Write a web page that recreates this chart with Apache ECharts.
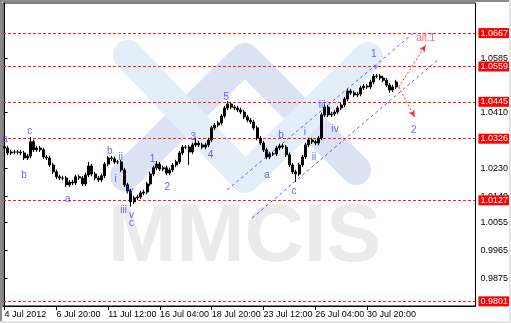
<!DOCTYPE html>
<html><head><meta charset="utf-8">
<script src="https://cdn.jsdelivr.net/npm/echarts@6/dist/echarts.min.js"></script>
<style>html,body{margin:0;padding:0;background:#fff}#c{width:511px;height:323px}</style>
</head><body><div id="c"></div>
<script>
// ---- data ----
const xTickLabels = ['4 Jul 2012','6 Jul 20:00','11 Jul 12:00','16 Jul 04:00','18 Jul 20:00','23 Jul 12:00','26 Jul 04:00','30 Jul 20:00'];
const barsPerTick = 16;
const slotCount = 146;
const opens = [1.0300,1.0296,1.0280,1.0283,1.0283,1.0283,1.0280,1.0264,1.0270,1.0316,
1.0290,1.0296,1.0290,1.0267,1.0264,1.0241,1.0219,1.0203,1.0199,1.0199,
1.0177,1.0186,1.0183,1.0203,1.0199,1.0180,1.0209,1.0238,1.0212,1.0199,
1.0193,1.0206,1.0244,1.0264,1.0261,1.0251,1.0251,1.0225,1.0177,1.0157,
1.0122,1.0135,1.0138,1.0151,1.0154,1.0180,1.0212,1.0232,1.0244,1.0228,
1.0232,1.0215,1.0225,1.0241,1.0251,1.0280,1.0299,1.0299,1.0283,1.0306,
1.0312,1.0306,1.0299,1.0306,1.0322,1.0361,1.0370,1.0377,1.0399,1.0425,
1.0438,1.0428,1.0425,1.0419,1.0412,1.0396,1.0386,1.0380,1.0361,1.0328,
1.0312,1.0290,1.0267,1.0277,1.0277,1.0296,1.0303,1.0299,1.0274,1.0241,
1.0219,1.0212,1.0241,1.0267,1.0306,1.0322,1.0316,1.0312,1.0328,1.0403,
1.0428,1.0403,1.0406,1.0412,1.0425,1.0435,1.0454,1.0480,1.0474,1.0467,
1.0470,1.0490,1.0496,1.0493,1.0509,1.0528,1.0528,1.0522,1.0515,1.0499,
1.0483,1.0493];
const closes = [1.0296,1.0280,1.0283,1.0283,1.0283,1.0280,1.0264,1.0270,1.0316,1.0290,
1.0296,1.0290,1.0267,1.0264,1.0241,1.0219,1.0203,1.0199,1.0199,1.0177,
1.0186,1.0183,1.0203,1.0199,1.0180,1.0209,1.0238,1.0212,1.0199,1.0193,
1.0206,1.0244,1.0264,1.0261,1.0251,1.0251,1.0225,1.0177,1.0157,1.0122,
1.0135,1.0138,1.0151,1.0154,1.0180,1.0212,1.0232,1.0244,1.0228,1.0232,
1.0215,1.0225,1.0241,1.0251,1.0280,1.0299,1.0299,1.0283,1.0306,1.0312,
1.0306,1.0299,1.0306,1.0322,1.0361,1.0370,1.0377,1.0399,1.0425,1.0438,
1.0428,1.0425,1.0419,1.0412,1.0396,1.0386,1.0380,1.0361,1.0328,1.0312,
1.0290,1.0267,1.0277,1.0277,1.0296,1.0303,1.0299,1.0274,1.0241,1.0219,
1.0212,1.0241,1.0267,1.0306,1.0322,1.0316,1.0312,1.0328,1.0403,1.0428,
1.0403,1.0406,1.0412,1.0425,1.0435,1.0454,1.0480,1.0474,1.0467,1.0470,
1.0490,1.0496,1.0493,1.0509,1.0528,1.0528,1.0522,1.0515,1.0499,1.0483,
1.0493,1.0509];
const highs = [1.0309,1.0303,1.0290,1.0290,1.0290,1.0290,1.0287,1.0277,1.0332,1.0323,
1.0303,1.0303,1.0297,1.0274,1.0271,1.0248,1.0226,1.0210,1.0206,1.0206,
1.0193,1.0193,1.0210,1.0210,1.0206,1.0216,1.0251,1.0245,1.0219,1.0206,
1.0213,1.0251,1.0271,1.0271,1.0268,1.0258,1.0258,1.0232,1.0184,1.0164,
1.0142,1.0145,1.0158,1.0161,1.0187,1.0219,1.0239,1.0254,1.0251,1.0239,
1.0239,1.0232,1.0248,1.0258,1.0287,1.0306,1.0306,1.0306,1.0313,1.0328,
1.0319,1.0313,1.0313,1.0329,1.0368,1.0377,1.0384,1.0406,1.0432,1.0448,
1.0445,1.0435,1.0432,1.0426,1.0419,1.0403,1.0393,1.0387,1.0368,1.0335,
1.0319,1.0297,1.0284,1.0284,1.0303,1.0310,1.0310,1.0306,1.0281,1.0248,
1.0226,1.0248,1.0274,1.0313,1.0329,1.0329,1.0323,1.0335,1.0410,1.0438,
1.0435,1.0413,1.0419,1.0432,1.0442,1.0461,1.0487,1.0487,1.0481,1.0477,
1.0497,1.0503,1.0503,1.0516,1.0535,1.0535,1.0535,1.0529,1.0522,1.0506,
1.0500,1.0516];
const lows = [1.0285,1.0273,1.0273,1.0276,1.0276,1.0273,1.0257,1.0257,1.0263,1.0283,
1.0283,1.0283,1.0260,1.0257,1.0234,1.0212,1.0196,1.0192,1.0192,1.0170,
1.0170,1.0176,1.0176,1.0192,1.0173,1.0173,1.0202,1.0205,1.0192,1.0186,
1.0186,1.0199,1.0237,1.0254,1.0244,1.0244,1.0218,1.0170,1.0150,1.0107,
1.0115,1.0128,1.0131,1.0144,1.0147,1.0173,1.0205,1.0225,1.0221,1.0221,
1.0208,1.0208,1.0218,1.0234,1.0244,1.0273,1.0292,1.0241,1.0276,1.0299,
1.0299,1.0292,1.0292,1.0299,1.0315,1.0354,1.0363,1.0370,1.0392,1.0418,
1.0421,1.0418,1.0412,1.0405,1.0389,1.0379,1.0373,1.0354,1.0321,1.0305,
1.0283,1.0260,1.0260,1.0270,1.0270,1.0289,1.0292,1.0267,1.0234,1.0212,
1.0186,1.0205,1.0234,1.0260,1.0299,1.0309,1.0305,1.0305,1.0321,1.0396,
1.0396,1.0396,1.0399,1.0405,1.0418,1.0428,1.0447,1.0467,1.0460,1.0460,
1.0463,1.0483,1.0486,1.0486,1.0502,1.0521,1.0515,1.0508,1.0492,1.0474,
1.0476,1.0486];
const levelValues = [1.0667,1.0559,1.0445,1.0326,1.0127,0.9801];
const yTickValues = [0.9875,0.9965,1.0055,1.0140,1.0230,1.0410,1.0585];
const waveText = ['a','c','b','a','b','ii','i','iii','iv','v','c','1','2','3','4','5','a','b','c','i','ii','iii','iv','1','v','2','alt.1'];
const waveX = [0.1,7.8,6.0,19.5,32.5,35.9,34.3,36.8,38.6,39.2,39.2,45.7,50.3,58.3,63.6,68.5,81.1,85.4,89.4,92.8,95.6,98.1,102.1,114.1,114.7,126.4,130.1];
const waveY = [1.0325,1.0351,1.0209,1.0132,1.0286,1.0267,1.0196,1.0096,1.0157,1.0080,1.0054,1.0261,1.0170,1.0332,1.0274,1.0461,1.0209,1.0338,1.0157,1.0348,1.0267,1.0435,1.0357,1.0599,1.0558,1.0354,1.0651];
const channelUpper = [[68.8,1.0161],[126.4,1.0667]];
const channelLower = [[76.5,1.0070],[133.8,1.0580]];
const arrowUp = [[121.8,1.0493],[130.1,1.0628]];
const arrowDown = [[121.8,1.0493],[126.7,1.0396]];
const yMin = 0.9786, yMax = 1.0764;

// ---- chart ----
const categories = Array.from({length: slotCount}, (_, i) => String(i));
const candles = closes.map((c, i) => [opens[i], c, lows[i], highs[i]]);
const tickShown = (i) => i % barsPerTick === 0 && (i / barsPerTick) < xTickLabels.length;
const FONT = '"Liberation Sans", Arial, sans-serif';
const BLUE = '#3d3dff', RED = '#ff2020', CH = '#5a5aff';

const chart = echarts.init(document.getElementById('c'), null, {renderer: 'canvas'});
chart.setOption({
  animation: false,
  backgroundColor: '#fff',
  textStyle: {fontFamily: FONT},
  grid: {left: 3, top: 3, right: 34, bottom: 17, show: true, borderColor: '#000', borderWidth: 1, backgroundColor: 'transparent'},
  xAxis: [{
    type: 'category', data: categories, boundaryGap: true,
    axisLine: {lineStyle: {color: '#000'}},
    axisTick: {show: true, alignWithLabel: true, interval: (i) => tickShown(i), length: 4, lineStyle: {color: '#000'}},
    axisLabel: {interval: (i) => tickShown(i), formatter: (v, i) => xTickLabels[i / barsPerTick] || '', color: '#000', fontSize: 9, align: 'left', margin: 4},
    splitLine: {show: false}
  }, {
    type: 'value', min: -0.5, max: slotCount - 0.5, show: false
  }],
  yAxis: {
    type: 'value', position: 'right', min: yMin, max: yMax, scale: true,
    axisLine: {show: true, lineStyle: {color: '#000'}},
    axisTick: {show: true, customValues: yTickValues, length: 3, lineStyle: {color: '#000'}},
    axisLabel: {customValues: yTickValues, formatter: (v) => v.toFixed(4), color: '#000', fontSize: 9, margin: 5,
      showMaxLabel: true, showMinLabel: true, hideOverlap: false},
    splitLine: {show: false}
  },
  graphic: [
    {type: 'rect', z: 100, shape: {x: 0, y: 0, width: 511, height: 2}, style: {fill: '#8a8a8a'}},
    {type: 'rect', z: 100, shape: {x: 0, y: 0, width: 2, height: 323}, style: {fill: '#8a8a8a'}},
    {type: 'rect', z: 100, shape: {x: 0, y: 321, width: 511, height: 2}, style: {fill: '#e4e4e4'}},
    {type: 'rect', z: 100, shape: {x: 509, y: 0, width: 2, height: 323}, style: {fill: '#e4e4e4'}},
    {type: 'polyline', z: 0, silent: true, shape: {points: [[125, 176], [245, 58], [356, 170]]},
      style: {stroke: '#dbe3f3', fill: null, lineWidth: 30, lineCap: 'round', lineJoin: 'round'}},
    {type: 'polyline', z: 0, silent: true, shape: {points: [[128, 55], [245, 178], [368, 57]]},
      style: {stroke: '#e3eef9', fill: null, lineWidth: 30, lineCap: 'round', lineJoin: 'round'}},
    {type: 'text', z: 0, silent: true, x: 108, y: 238,
      style: {text: 'MMCIS', font: 'bold 82px "Liberation Sans", Arial, sans-serif', fill: '#ebebeb', verticalAlign: 'middle', align: 'left'}}
  ],
  series: [
    {
      type: 'candlestick', xAxisIndex: 0, z: 5, barWidth: 2.5,
      data: candles,
      itemStyle: {color: '#000', color0: '#000', borderColor: '#000', borderColor0: '#000', borderWidth: 1},
      markLine: {
        silent: true, symbol: ['none', 'none'], precision: 4,
        data: levelValues.map(v => ({
          yAxis: v,
          lineStyle: {color: RED, type: [3, 2], width: 1},
          label: {show: true, position: 'end', distance: 3, formatter: () => v.toFixed(4), color: '#fff', backgroundColor: '#ff0000', fontSize: 9, padding: [1, 2, 0, 2]}
        }))
      }
    },
    {
      type: 'line', xAxisIndex: 1, z: 4, symbol: 'none', data: channelUpper,
      lineStyle: {color: CH, type: [3, 3], width: 1}
    },
    {
      type: 'line', xAxisIndex: 1, z: 4, symbol: 'none', data: channelLower,
      lineStyle: {color: CH, type: [3, 3], width: 1},
      markLine: {
        silent: true, symbol: ['none', 'arrow'], symbolSize: [5, 7],
        label: {show: false},
        lineStyle: {color: '#ff3030', type: [2, 2], width: 1},
        data: [
          [{coord: arrowUp[0]}, {coord: arrowUp[1]}],
          [{coord: arrowDown[0]}, {coord: arrowDown[1]}]
        ]
      }
    },
    {
      type: 'scatter', xAxisIndex: 1, z: 6, symbolSize: 0.1, silent: true,
      itemStyle: {color: 'rgba(0,0,0,0)'},
      data: waveText.map((t, i) => ({
        name: t, value: [waveX[i], waveY[i]],
        label: {color: t === 'alt.1' ? '#ff4040' : BLUE, fontSize: t === 'v' && i > 20 ? 8 : 10}
      })),
      label: {show: true, position: 'inside', formatter: '{b}', fontSize: 10}
    }
  ]
});
</script>
</body></html>
